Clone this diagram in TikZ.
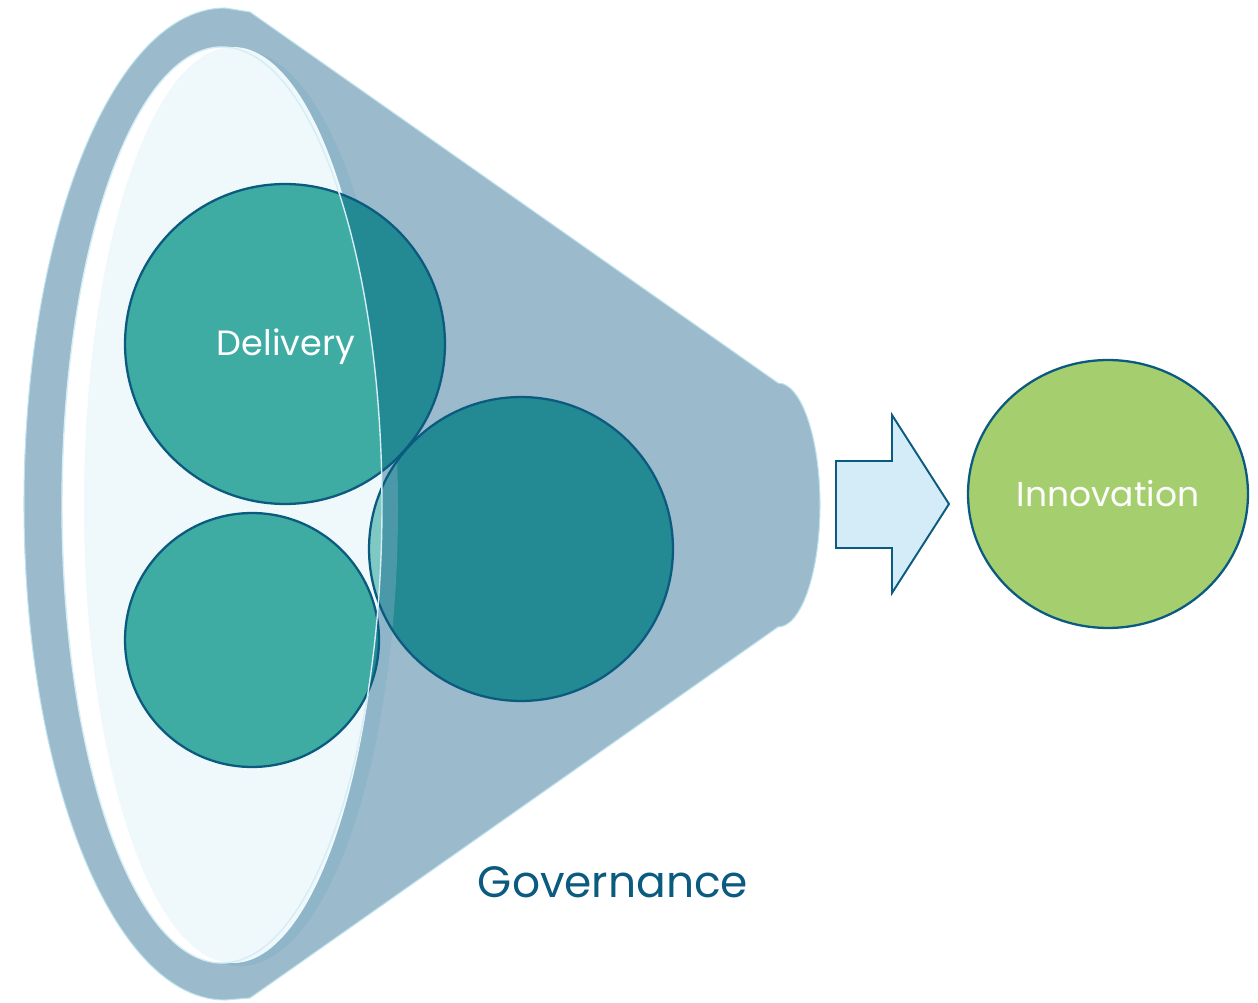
\documentclass[tikz,border=0pt]{standalone}
\usepackage{fontspec}
\setmainfont{Poppins}
\usetikzlibrary{shapes.geometric}
\definecolor{bodyc}{HTML}{9BBACB}
\definecolor{rimc}{HTML}{BFE2EF}
\definecolor{holec}{HTML}{EFF8FB}
\definecolor{bandc}{HTML}{8FB5C8}
\definecolor{tealL}{HTML}{3EACA3}
\definecolor{tealD}{HTML}{238A93}
\definecolor{tealBand}{HTML}{4A98A8}
\definecolor{tealPale}{HTML}{7FC9C4}
\definecolor{navy}{HTML}{0B5A7F}
\definecolor{arrowc}{HTML}{D4ECF7}
\definecolor{leaf}{HTML}{A5CF6E}
\definecolor{linec}{HTML}{D5EDF6}
\tikzset{
  ring/.style={circle, draw=navy, line width=1.3pt, inner sep=0pt, text=white, font=\fontsize{20}{24}\selectfont},
  holeell/.style={x radius=160, y radius=458},
}
\begin{document}
\begin{tikzpicture}[x=0.02cm,y=-0.02cm]
\useasboundingbox (0,0) rectangle (1258,1003);
% funnel body
\fill[bodyc] (250,12) -- (778,383) arc[start angle=-90,end angle=90,x radius=42,y radius=122] -- (250,998) -- (225,1000) arc[start angle=90,end angle=270,x radius=201,y radius=496] -- cycle;
\draw[rimc, line width=0.6pt] (250,12) -- (778,383) arc[start angle=-90,end angle=90,x radius=42,y radius=122] -- (250,998) -- (225,1000) arc[start angle=90,end angle=270,x radius=201,y radius=496] -- cycle;
% inner band and opening
\fill[bandc] (240,508) ellipse[x radius=158, y radius=458];
\fill[white] (222,505) ellipse[holeell];
\fill[holec] (233,505) ellipse[x radius=149, y radius=458];
% circle fills
\fill[tealL] (285,344) circle[radius=160];
\fill[tealL] (252,640) circle[radius=127];
\begin{scope}[even odd rule]
  \clip (0,0) rectangle (1258,1003) (222,505) ellipse[holeell];
  \fill[tealD] (285,344) circle[radius=160];
  \fill[tealD] (252,640) circle[radius=127];
\end{scope}
\fill[tealD] (521,549) circle[radius=152];
\begin{scope}
  \clip (521,549) circle[radius=152];
  \fill[tealBand] (240,508) ellipse[x radius=158, y radius=458];
  \fill[tealPale] (222,505) ellipse[holeell];
\end{scope}
% circle outlines and labels
\node[ring, minimum size=6.4cm] (delivery) at (285,344) {};
\node[text=white, font=\fontsize{20}{24}\selectfont] (dlabel) at (286,347) {Delivery};
\node[ring, minimum size=5.08cm] (lower) at (252,640) {};
\node[ring, minimum size=6.08cm] (third) at (521,549) {};
% rim line of the opening
\draw[linec, line width=0.8pt] (222,505) ellipse[holeell];
% arrow
\draw[navy, fill=arrowc, line width=1.1pt, line join=miter] (836,461) -- (892,461) -- (892,415) -- (949,504) -- (892,593) -- (892,548) -- (836,548) -- cycle;
% innovation
\node[ellipse, draw=navy, fill=leaf, line width=1.3pt, inner sep=0pt, minimum width=5.6cm, minimum height=5.36cm, text=white, font=\fontsize{19.6}{24}\selectfont] (innovation) at (1108,494) {Innovation};
% governance label
\node[text=navy, font=\fontsize{25}{30}\selectfont] (governance) at (613,882) {Governance};
\end{tikzpicture}
\end{document}
